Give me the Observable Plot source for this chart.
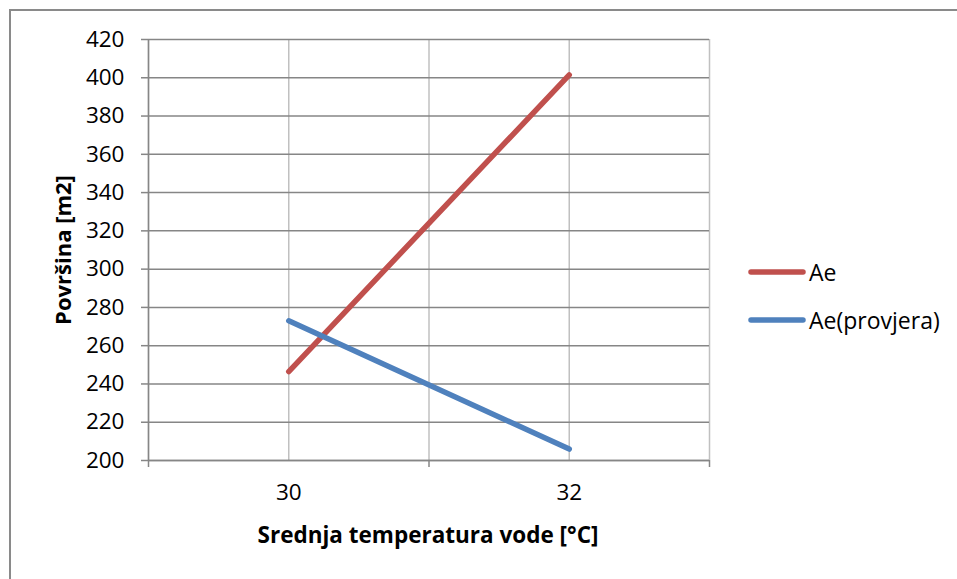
<!DOCTYPE html>
<html>
<head>
<meta charset="utf-8">
<script src="https://cdn.jsdelivr.net/npm/d3@7"></script>
<script src="https://cdn.jsdelivr.net/npm/@observablehq/plot@0.6"></script>
<style>
  body { margin: 0; background: #fff; }
  #wrap { position: relative; width: 957px; height: 579px; overflow: hidden; font-family: "Open Sans", sans-serif; }
  #frame { position: absolute; left: 9px; top: 9px; width: 1000px; height: 700px; border: 2px solid #8a8a8a; box-sizing: border-box; }
  #chart { position: absolute; left: 0; top: 0; }
  #legend { position: absolute; left: 748px; top: 248px; font-size: 23px; color: #000; }
  .item { display: flex; align-items: center; height: 48px; }
  .item svg { margin-right: 3px; }
</style>
</head>
<body>
<div id="wrap">
  <div id="frame"></div>
  <div id="chart"></div>
  <div id="legend"></div>
</div>
<script>
// ---- data ----
const temperatures = [30, 32];
const aeValues = [246.5, 401.5];
const aeProvjeraValues = [273, 206];
const seriesNames = ["Ae", "Ae(provjera)"];
const seriesColors = ["#c0504d", "#4f81bd"];
const yTicks = [200, 220, 240, 260, 280, 300, 320, 340, 360, 380, 400, 420];
const xGridValues = [29, 30, 31, 32, 33];
const xTickMarks = [29, 31, 33];
const xTickLabels = [30, 32];
const xTitle = "Srednja temperatura vode [°C]";
const yTitle = "Površina [m2]";

const rows = [];
temperatures.forEach((t, i) => {
  rows.push({series: seriesNames[0], t, v: aeValues[i]});
  rows.push({series: seriesNames[1], t, v: aeProvjeraValues[i]});
});

const axisGray = "#868686";

const chart = Plot.plot({
  width: 957,
  height: 579,
  marginLeft: 148,
  marginRight: 248,
  marginTop: 39,
  marginBottom: 119,
  x: {domain: [29, 33]},
  y: {domain: [200, 420]},
  color: {domain: seriesNames, range: seriesColors},
  style: {fontFamily: "Open Sans, sans-serif", fontSize: "22.5px", color: "#000", background: "transparent", overflow: "visible"},
  marks: [
    Plot.gridX(xGridValues, {stroke: "#c0c0c0", strokeOpacity: 1, strokeWidth: 1.5}),
    Plot.gridY(yTicks, {stroke: axisGray, strokeOpacity: 1, strokeWidth: 1.5}),
    Plot.axisY(yTicks, {tickSize: 7, tickPadding: 17, stroke: axisGray, strokeWidth: 1.5, label: null, fill: "#000"}),
    Plot.axisX(xTickMarks, {tickSize: 7, stroke: axisGray, strokeWidth: 1.5, tickFormat: () => "", label: null}),
    Plot.axisX(xTickLabels, {tickSize: 0, tickPadding: 24, label: null, fill: "#000", tickFormat: d3.format("d")}),
    Plot.ruleY([200], {stroke: axisGray, strokeWidth: 1.5}),
    Plot.ruleX([29], {stroke: axisGray, strokeWidth: 1.5}),
    Plot.line(rows, {x: "t", y: "v", z: "series", stroke: "series", strokeWidth: 5.5, strokeLinecap: "round"})
  ]
});

const svg = d3.select(chart);
svg.append("text")
  .attr("transform", "translate(62,250) rotate(-90)")
  .attr("text-anchor", "middle")
  .attr("dominant-baseline", "central")
  .attr("font-weight", "bold")
  .attr("font-size", 22)
  .attr("fill", "#000")
  .text(yTitle);
svg.append("text")
  .attr("x", 428)
  .attr("y", 543)
  .attr("text-anchor", "middle")
  .attr("font-weight", "bold")
  .attr("font-size", 22.5)
  .attr("fill", "#000")
  .text(xTitle);

document.getElementById("chart").appendChild(chart);

const legend = d3.select("#legend");
seriesNames.forEach((name, i) => {
  const item = legend.append("div").attr("class", "item");
  const sw = item.append("svg").attr("width", 58).attr("height", 10);
  sw.append("line").attr("x1", 3).attr("x2", 55).attr("y1", 5).attr("y2", 5)
    .attr("stroke", seriesColors[i]).attr("stroke-width", 5.5).attr("stroke-linecap", "round");
  item.append("span").text(name);
});
</script>
</body>
</html>
